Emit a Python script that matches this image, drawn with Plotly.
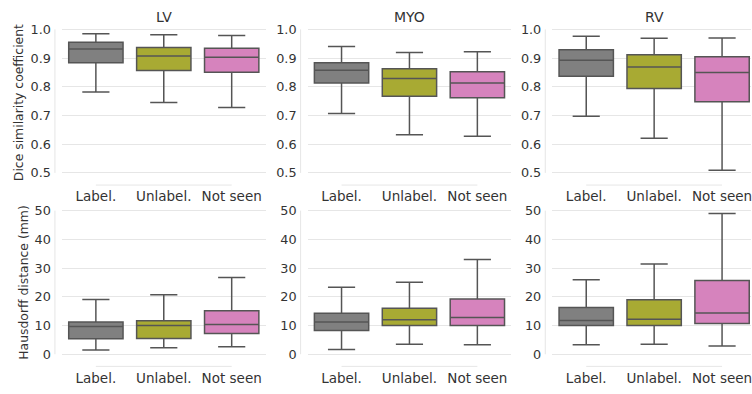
import plotly.graph_objects as go

categories = ["Label.", "Unlabel.", "Not seen"]
structures = ["LV", "MYO", "RV"]
colors = ["#808080", "#a8aa33", "#d683bd"]

# Dice similarity coefficient: [lower whisker, q1, median, q3, upper whisker] per category
dice = {
    "LV":  [[0.782, 0.884, 0.932, 0.955, 0.985],
            [0.745, 0.857, 0.907, 0.937, 0.981],
            [0.728, 0.851, 0.903, 0.934, 0.979]],
    "MYO": [[0.707, 0.813, 0.858, 0.884, 0.940],
            [0.633, 0.767, 0.829, 0.863, 0.919],
            [0.628, 0.762, 0.813, 0.852, 0.922]],
    "RV":  [[0.697, 0.837, 0.892, 0.929, 0.976],
            [0.621, 0.794, 0.869, 0.912, 0.969],
            [0.509, 0.748, 0.850, 0.905, 0.970]],
}
# Hausdorff distance (mm)
hd = {
    "LV":  [[1.5, 5.4, 9.7, 11.2, 19.1],
            [2.25, 5.5, 10.05, 11.7, 20.7],
            [2.6, 7.2, 10.4, 15.15, 26.7]],
    "MYO": [[1.7, 8.25, 11.2, 14.25, 23.3],
            [3.5, 10.05, 12.0, 16.05, 25.1],
            [3.3, 10.05, 12.8, 19.2, 33.0]],
    "RV":  [[3.3, 10.05, 11.75, 16.3, 25.9],
            [3.5, 10.05, 12.2, 19.0, 31.4],
            [2.9, 10.75, 14.4, 25.7, 49.0]],
}
dice_ticks = [0.5, 0.6, 0.7, 0.8, 0.9, 1.0]
hd_ticks = [0, 10, 20, 30, 40, 50]

W, H = 752, 394
FONT = "DejaVu Sans"
TXT = "#333333"
GRID = "#e6e6e6"
EDGE = "#555555"

# pixel layout of each column: (left px, right px, x range)
cols = [(62, 266, [-0.5, 2.5]), (308, 512, [-0.5, 2.5]), (553, 752, [-0.5, 2.426])]
rows = [
    dict(top=22.05, bottom=175.25, rng=[0.49, 1.01], ticks=dice_ticks, data=dice, fmt=".1f"),
    dict(top=208.05, bottom=361.3, rng=[-1, 51], ticks=hd_ticks, data=hd, fmt="d"),
]

fig = go.Figure()
layout = dict(width=W, height=H, margin=dict(l=0, r=0, t=0, b=0),
              paper_bgcolor="white", plot_bgcolor="white", showlegend=False,
              boxmode="overlay", font=dict(family=FONT, color=TXT, size=13))
shapes, annotations = [], []

n = 0
for ri, row in enumerate(rows):
    for ci, (lpx, rpx, xr) in enumerate(cols):
        n += 1
        xa = "x" if n == 1 else f"x{n}"
        ya = "y" if n == 1 else f"y{n}"
        s = structures[ci]
        for k, cat in enumerate(categories):
            lo, q1, med, q3, hi = row["data"][s][k]
            fig.add_trace(go.Box(
                x=[cat], q1=[q1], median=[med], q3=[q3],
                lowerfence=[lo], upperfence=[hi],
                fillcolor=colors[k], line=dict(color=EDGE, width=1.5),
                width=0.8, whiskerwidth=0.5, boxpoints=False,
                xaxis=xa, yaxis=ya, hoverinfo="skip"))
        layout["xaxis" if n == 1 else f"xaxis{n}"] = dict(
            domain=[lpx / W, rpx / W], anchor=ya, range=xr, type="category",
            categoryorder="array", categoryarray=categories,
            showgrid=False, zeroline=False, showline=False, ticks="",
            ticklabelstandoff=11, tickfont=dict(size=13.5, color=TXT, family=FONT))
        layout["yaxis" if n == 1 else f"yaxis{n}"] = dict(
            domain=[1 - row["bottom"] / H, 1 - row["top"] / H], anchor=xa,
            range=row["rng"], tickvals=row["ticks"], tickformat=row["fmt"],
            showgrid=True, gridcolor=GRID, gridwidth=1, zeroline=False,
            showline=False, ticks="", ticklabelstandoff=10,
            tickfont=dict(size=12.8, color=TXT, family=FONT))
        dpx = rpx - lpx
        hpx = row["bottom"] - row["top"]
        # left spine (offset, trimmed)
        shapes.append(dict(type="line", xref=f"{xa} domain", yref=ya,
                           x0=-7 / dpx, x1=-7 / dpx,
                           y0=row["ticks"][0], y1=row["ticks"][-1],
                           line=dict(color=GRID, width=1)))
        # bottom spine (offset, trimmed)
        shapes.append(dict(type="line", xref=xa, yref=f"{ya} domain",
                           x0=0, x1=2, y0=-9.5 / hpx, y1=-9.5 / hpx,
                           line=dict(color=GRID, width=1)))
        if ri == 0:
            annotations.append(dict(text=s, xref=xa, x=1, yref="paper",
                                    y=1 - 12.5 / H, yanchor="middle",
                                    showarrow=False,
                                    font=dict(size=14, color=TXT, family=FONT)))

annotations.append(dict(text="Dice similarity coefficient", textangle=-90,
                        xref="paper", x=18.7 / W, yref="paper", y=1 - 100 / H,
                        xanchor="center", yanchor="middle", showarrow=False,
                        font=dict(size=12.4, color=TXT, family=FONT)))
annotations.append(dict(text="Hausdorff distance (mm)", textangle=-90,
                        xref="paper", x=23.3 / W, yref="paper", y=1 - 284.7 / H,
                        xanchor="center", yanchor="middle", showarrow=False,
                        font=dict(size=12.4, color=TXT, family=FONT)))

layout["shapes"] = shapes
layout["annotations"] = annotations
fig.update_layout(**layout)
fig.write_html("out.html")
